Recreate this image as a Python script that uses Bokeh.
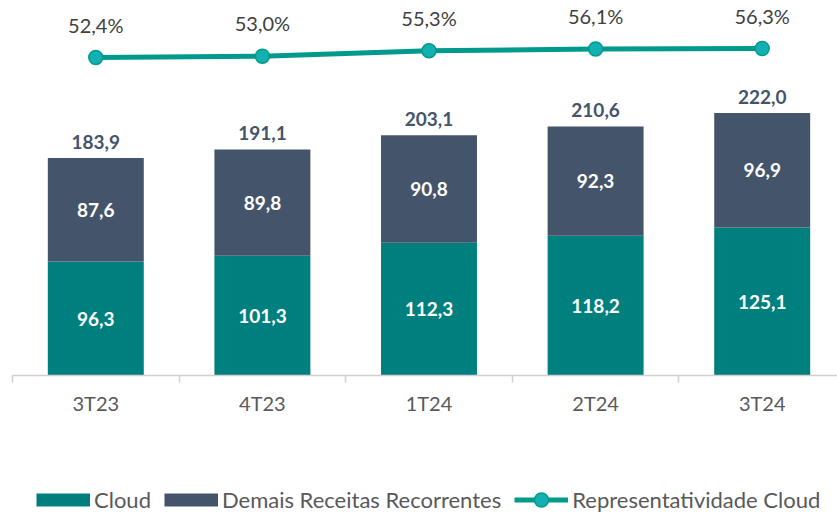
from bokeh.plotting import figure
from bokeh.layouts import column
from bokeh.models import (ColumnDataSource, Range1d, FixedTicker, Legend, LegendItem)
from bokeh.core.properties import value
from bokeh.embed import file_html
from bokeh.resources import INLINE

# ---- data ----
categories = ["3T23", "4T23", "1T24", "2T24", "3T24"]
cloud = [96.3, 101.3, 112.3, 118.2, 125.1]
demais = [87.6, 89.8, 90.8, 92.3, 96.9]
totals = [183.9, 191.1, 203.1, 210.6, 222.0]
representatividade = [52.4, 53.0, 55.3, 56.1, 56.3]
series_names = ["Cloud", "Demais Receitas Recorrentes", "Representatividade Cloud"]

CLOUD_C = "#007f7f"
DEMAIS_C = "#44546a"
LINE_C = "#009a8c"
MARK_C = "#12b0b0"
FONT = "Lato"

def br(v, pct=False):
    s = f"{v:.1f}".replace(".", ",")
    return s + ("%" if pct else "")

x = [i + 0.5 for i in range(len(categories))]
src = ColumnDataSource(dict(
    x=x, cat=categories, cloud=cloud, demais=demais, totals=totals,
    zero=[0] * len(x),
    stack_top=[c + d for c, d in zip(cloud, demais)],
    cloud_mid=[c / 2 for c in cloud],
    demais_mid=[c + d / 2 for c, d in zip(cloud, demais)],
    cloud_lbl=[br(v) for v in cloud],
    demais_lbl=[br(v) for v in demais],
    total_lbl=[br(v) for v in totals],
    pct=representatividade,
    pct_lbl=[br(v, True) for v in representatividade],
))

# ---------------- main chart ----------------
p = figure(width=837, height=440, output_backend="svg", toolbar_location=None,
           x_range=Range1d(0, 4.952), y_range=Range1d(0, 317),
           y_axis_location=None,
           min_border_left=12, min_border_right=0, min_border_top=0,
           min_border_bottom=65)
p.extra_y_ranges = {"pct": Range1d(-85.3, 77.1)}
p.outline_line_color = None
p.xgrid.visible = False
p.ygrid.visible = False

bw = 0.576
p.vbar(x="x", bottom="zero", top="cloud", width=bw, source=src,
       fill_color=CLOUD_C, line_color=None)
p.vbar(x="x", bottom="cloud", top="stack_top", width=bw, source=src,
       fill_color=DEMAIS_C, line_color=None)

p.line(x="x", y="pct", source=src, y_range_name="pct",
       line_color=LINE_C, line_width=5)
p.scatter(x="x", y="pct", source=src, y_range_name="pct", size=14,
          fill_color=MARK_C, line_color=LINE_C, line_width=1.5)

p.text(x="x", y="cloud_mid", text="cloud_lbl", source=src,
       text_font=value(FONT), text_font_style="bold", text_font_size="19px",
       text_color="white", text_align="center", text_baseline="middle")
p.text(x="x", y="demais_mid", text="demais_lbl", source=src,
       text_font=value(FONT), text_font_style="bold", text_font_size="19px",
       text_color="white", text_align="center", text_baseline="middle")
p.text(x="x", y="totals", text="total_lbl", source=src,
       text_font=value(FONT), text_font_style="bold", text_font_size="19px",
       text_color=DEMAIS_C, text_align="center", text_baseline="bottom",
       y_offset=-9)
p.text(x="x", y="pct", text="pct_lbl", source=src, y_range_name="pct",
       text_font=value(FONT), text_font_size="20px",
       text_color="#404040", text_align="center", text_baseline="middle",
       y_offset=-33)

ax = p.xaxis[0]
ax.ticker = FixedTicker(ticks=x, minor_ticks=[i for i in range(len(categories) + 1)])
ax.major_label_overrides = {xx: c for xx, c in zip(x, categories)}
ax.major_tick_line_color = None
ax.major_tick_out = 0
ax.major_tick_in = 0
ax.minor_tick_line_color = "#d0d0d0"
ax.minor_tick_line_width = 1.5
ax.minor_tick_out = 7
ax.minor_tick_in = 0
ax.axis_line_color = "#d0d0d0"
ax.axis_line_width = 1.5
ax.major_label_text_font = FONT
ax.major_label_text_font_size = "20px"
ax.major_label_text_color = "#595959"
ax.major_label_standoff = 8

# ---------------- legend strip ----------------
# The series are drawn again here, out of view, only to give the legend glyphs.
lg = figure(width=837, height=76, output_backend="svg", toolbar_location=None,
            x_range=Range1d(100, 101), y_range=Range1d(1000, 1001),
            x_axis_location=None, y_axis_location=None,
            min_border_left=0, min_border_right=0, min_border_top=0,
            min_border_bottom=0)
lg.outline_line_color = None
lg.xgrid.visible = False
lg.ygrid.visible = False
# thick butt-capped strokes give flat swatches the size of Excel's legend keys
e_cloud = lg.line(x="x", y="cloud", source=src, line_color=CLOUD_C,
                  line_width=13, line_cap="butt")
e_dem = lg.line(x="x", y="demais", source=src, line_color=DEMAIS_C,
                line_width=13, line_cap="butt")
e_line = lg.line(x="x", y="pct", source=src, line_color=LINE_C, line_width=5)
e_mark = lg.scatter(x="x", y="pct", source=src, size=14, fill_color=MARK_C,
                    line_color=LINE_C, line_width=1.5)

legend = Legend(items=[
    LegendItem(label=series_names[0], renderers=[e_cloud]),
    LegendItem(label=series_names[1], renderers=[e_dem]),
    LegendItem(label=series_names[2], renderers=[e_line, e_mark]),
], orientation="horizontal", location=(24, -1))
legend.padding = 0
legend.margin = 0
legend.spacing = 13
legend.glyph_width = 54
legend.glyph_height = 35
legend.label_standoff = 4
legend.label_text_font = FONT
legend.label_text_font_size = "22px"
legend.label_text_color = "#595959"
legend.border_line_color = None
legend.background_fill_alpha = 0
lg.add_layout(legend)

layout = column(p, lg, spacing=0)
open("out.html", "w").write(file_html(layout, INLINE))
